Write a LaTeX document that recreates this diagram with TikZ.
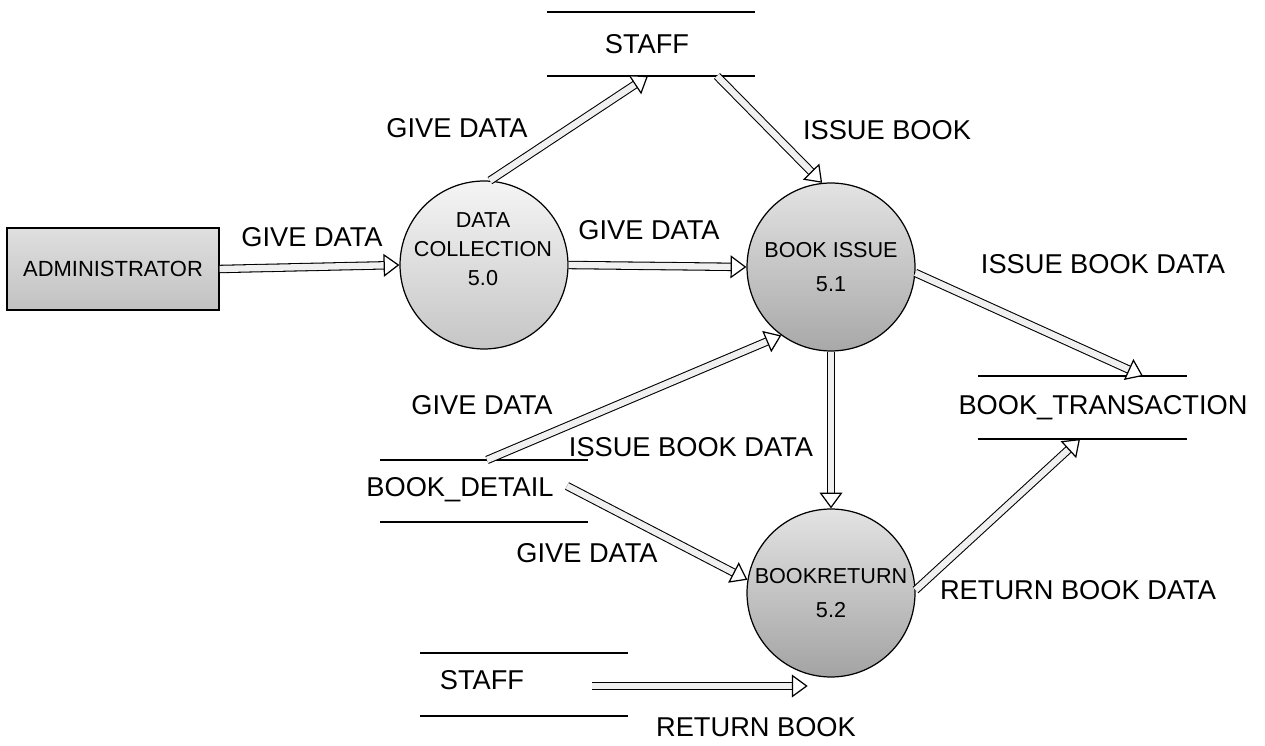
\documentclass[tikz,border=0pt]{standalone}
\usepackage{fontspec}
\setmainfont{Liberation Sans}
\usetikzlibrary{arrows.meta,positioning}

\begin{document}
\begin{tikzpicture}[x=0.02cm,y=-0.02cm,
	every node/.style={font=\fontsize{15.5}{18}\selectfont},
	proc/.style={circle,draw,line width=0.7pt,minimum size=3.36cm,inner sep=0pt,align=center,font=\fontsize{12.3}{19}\selectfont},
	flow/.style={double=gray!12,double distance=3.6pt,line width=0.6pt,-{Triangle[open,fill=white,length=9pt,width=13pt,line width=0.7pt]}},
	storeline/.style={line width=0.7pt}]

	\useasboundingbox (0,0) rectangle (1265,746);

	% external entity
	\node[draw,line width=0.7pt,top color=gray!25,bottom color=gray!48,minimum width=4.24cm,minimum height=1.64cm,inner sep=0pt,font=\fontsize{12.5}{14}\selectfont] (admin) at (113,269) {ADMINISTRATOR};

	% processes
	\node[proc,top color=gray!8,bottom color=gray!45] (dc) at (484,265) {};
	\node[align=center,font=\fontsize{12.3}{16.5}\selectfont] (dctext) at (483,249) {DATA\\COLLECTION\\5.0};
	\node[proc,top color=gray!22,bottom color=gray!68] (bi) at (831,267) {BOOK ISSUE\\5.1};
	\node[proc,top color=gray!22,bottom color=gray!72] (br) at (831,593) {BOOKRETURN\\5.2};

	% data store STAFF (top)
	\draw[storeline] (547,12) -- (755,12);
	\draw[storeline] (547,76) -- (755,76);
	\node (stafftop) at (647,44) {STAFF};
	\coordinate (stin) at (648,76);
	\coordinate (stout) at (717,76);

	% data store BOOK_DETAIL
	\draw[storeline] (380,460) -- (588,460);
	\draw[storeline] (380,522) -- (588,522);
	\node (bd) at (460,490) {BOOK\_DETAIL};
	\coordinate (bdout1) at (487,460);
	\coordinate (bdout2) at (567,486);

	% data store BOOK_TRANSACTION
	\draw[storeline] (978,376) -- (1187,376);
	\draw[storeline] (978,439) -- (1187,439);
	\node (bt) at (1103,408) {BOOK\_TRANSACTION};
	\coordinate (btin1) at (1143,376);
	\coordinate (btin2) at (1080,439);

	% data store STAFF (bottom)
	\draw[storeline] (420,653) -- (628,653);
	\draw[storeline] (420,716) -- (628,716);
	\node (staffbot) at (482,680) {STAFF};
	\coordinate (sbout) at (592,686);

	% flows
	\draw[flow] (admin.east) -- (dc.west);
	\draw[flow] (dc.86) -- (stin);
	\draw[flow] (stout) -- (bi.96);
	\draw[flow] (dc.east) -- (bi.west);
	\draw[flow] (bi.-4) -- (btin1);
	\draw[flow] (bi.south) -- (br.north);
	\draw[flow] (bdout1) -- (bi.234);
	\draw[flow] (bdout2) -- (br.171);
	\draw[flow] (br.2) -- (btin2);
	\draw[flow] (sbout) -- (sbout -| br.254);

	% labels
	\node (l1) at (312,237) {GIVE DATA};
	\node (l2) at (457,128) {GIVE DATA};
	\node (l3) at (887,130) {ISSUE BOOK};
	\node (l4) at (649,230) {GIVE DATA};
	\node (l5) at (1103,264) {ISSUE BOOK DATA};
	\node (l6) at (482,405) {GIVE DATA};
	\node (l7) at (691,447) {ISSUE BOOK DATA};
	\node (l8) at (587,553) {GIVE DATA};
	\node (l9) at (1078,590) {RETURN BOOK DATA};
	\node (l10) at (756,727) {RETURN BOOK};

\end{tikzpicture}
\end{document}
